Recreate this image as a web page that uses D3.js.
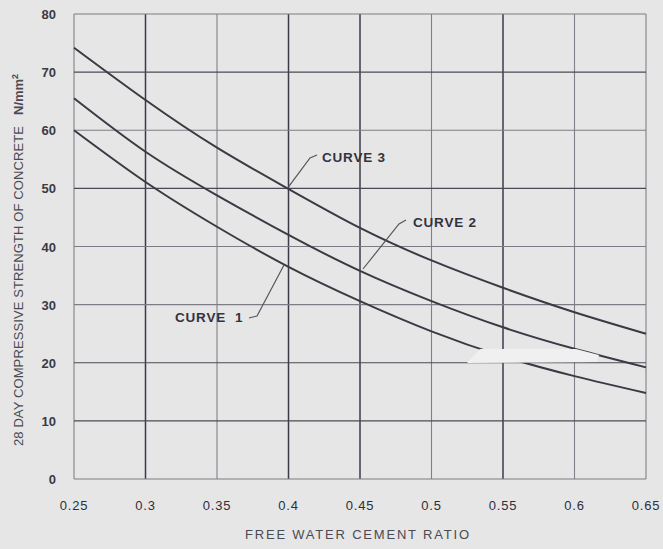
<!DOCTYPE html>
<html>
<head>
<meta charset="utf-8">
<script src="https://cdn.jsdelivr.net/npm/d3@7"></script>
<style>
  html, body { margin: 0; padding: 0; background: #e6e6e6; }
  svg { display: block; font-family: 'Liberation Sans', Arial, sans-serif; }
  .y-tick { font-size: 13px; font-weight: bold; fill: #3a3a44; }
  .x-tick { font-size: 13px; fill: #2e2e38; letter-spacing: 0.8px; }
  .axis-title { font-size: 13px; fill: #4a4a52; }
  .note { font-size: 13.5px; font-weight: bold; fill: #33333d; letter-spacing: 0.8px; }
</style>
</head>
<body>
<svg id="chart" width="663" height="549"></svg>
<script>
// free water / cement ratio
const ratios = [0.25, 0.3, 0.35, 0.4, 0.45, 0.5, 0.55, 0.6, 0.65]
// 28 day strength, N/mm2
const curve1 = [60, 51.1, 43.4, 36.5, 30.6, 25.4, 21.1, 17.7, 14.8]
const curve2 = [65.5, 56.3, 48.8, 42.0, 35.8, 30.6, 26.1, 22.4, 19.2]
const curve3 = [74.2, 65.2, 57.0, 49.9, 43.2, 37.6, 32.9, 28.7, 25.0]
const xTicks = [0.25, 0.3, 0.35, 0.4, 0.45, 0.5, 0.55, 0.6, 0.65]
const yTicks = [0, 10, 20, 30, 40, 50, 60, 70, 80]

const width = 663
const height = 549
const margin = { top: 14, right: 17, bottom: 70, left: 74 }

const svg = d3.select('#chart')

const x = d3.scaleLinear().domain([0.25, 0.65]).range([margin.left, width - margin.right])
const y = d3.scaleLinear().domain([0, 80]).range([height - margin.bottom, margin.top])

// grid, scanned look: some lines darker than others
const darkV = [1, 3, 4, 6]
const grid = svg.append('g').attr('class', 'grid')
grid.selectAll('line.v')
  .data(xTicks)
  .join('line')
  .attr('x1', d => x(d)).attr('x2', d => x(d))
  .attr('y1', y(80)).attr('y2', y(0))
  .attr('stroke', (d, i) => darkV.includes(i) ? '#3b3b48' : '#808088')
  .attr('stroke-width', (d, i) => darkV.includes(i) ? 1.5 : 1.1)

grid.selectAll('line.h')
  .data(yTicks)
  .join('line')
  .attr('x1', x(0.25)).attr('x2', x(0.65))
  .attr('y1', d => y(d)).attr('y2', d => y(d))
  .attr('stroke', (d, i) => [1, 2, 5, 7].includes(i) ? '#4a4a56' : '#7c7c84')
  .attr('stroke-width', 1.2)

// curves
const line = d3.line()
  .x((d, i) => x(ratios[i]))
  .y(d => y(d))
  .curve(d3.curveNatural)

svg.append('g')
  .selectAll('path')
  .data([curve1, curve2, curve3])
  .join('path')
  .attr('d', line)
  .attr('fill', 'none')
  .attr('stroke', '#3a3a44')
  .attr('stroke-width', 2)

// light smudge from the scan, lies over the lowest curve
svg.append('path')
  .attr('d', 'M480,349 L576,349 L599,355 L597,362 L467,363 Z')
  .attr('fill', '#f0f0f0')

// tick labels
svg.append('g')
  .selectAll('text')
  .data(yTicks)
  .join('text')
  .attr('class', 'y-tick')
  .attr('x', 56)
  .attr('y', d => y(d) + 5)
  .attr('text-anchor', 'end')
  .text(d => d)

svg.append('g')
  .selectAll('text')
  .data(xTicks)
  .join('text')
  .attr('class', 'x-tick')
  .attr('x', d => x(d))
  .attr('y', 510)
  .attr('text-anchor', 'middle')
  .text(d => d)

// axis titles
svg.append('text')
  .attr('class', 'axis-title')
  .attr('x', 245)
  .attr('y', 539)
  .attr('textLength', 224)
  .attr('lengthAdjust', 'spacing')
  .text('FREE WATER CEMENT RATIO')

svg.append('text')
  .attr('class', 'axis-title')
  .attr('transform', 'translate(23, 446) rotate(-90)')
  .attr('textLength', 320)
  .attr('lengthAdjust', 'spacing')
  .text('28 DAY COMPRESSIVE STRENGTH OF CONCRETE')

const unit = svg.append('text')
  .attr('class', 'axis-title')
  .attr('transform', 'translate(23, 115) rotate(-90)')
  .attr('font-weight', 'bold')
unit.append('tspan').text('N/mm')
unit.append('tspan').attr('font-size', 9).attr('dy', -5).text('2')

// curve labels with leader lines
const notes = [
  { text: 'CURVE 3', tx: 322, ty: 162, path: [[317, 155], [310, 158], [x(0.4), y(curve3[3]) - 2]] },
  { text: 'CURVE 2', tx: 413, ty: 227, path: [[406, 220], [399, 224], [363, 269]] },
  { text: 'CURVE  1', tx: 175, ty: 322, path: [[249, 318], [257, 316], [284, 265]] }
]
const noteG = svg.append('g')
noteG.selectAll('path')
  .data(notes)
  .join('path')
  .attr('d', d => d3.line()(d.path))
  .attr('fill', 'none')
  .attr('stroke', '#55555e')
  .attr('stroke-width', 1.2)
noteG.selectAll('text')
  .data(notes)
  .join('text')
  .attr('class', 'note')
  .attr('x', d => d.tx)
  .attr('y', d => d.ty)
  .style('white-space', 'pre')
  .text(d => d.text)
</script>
</body>
</html>
